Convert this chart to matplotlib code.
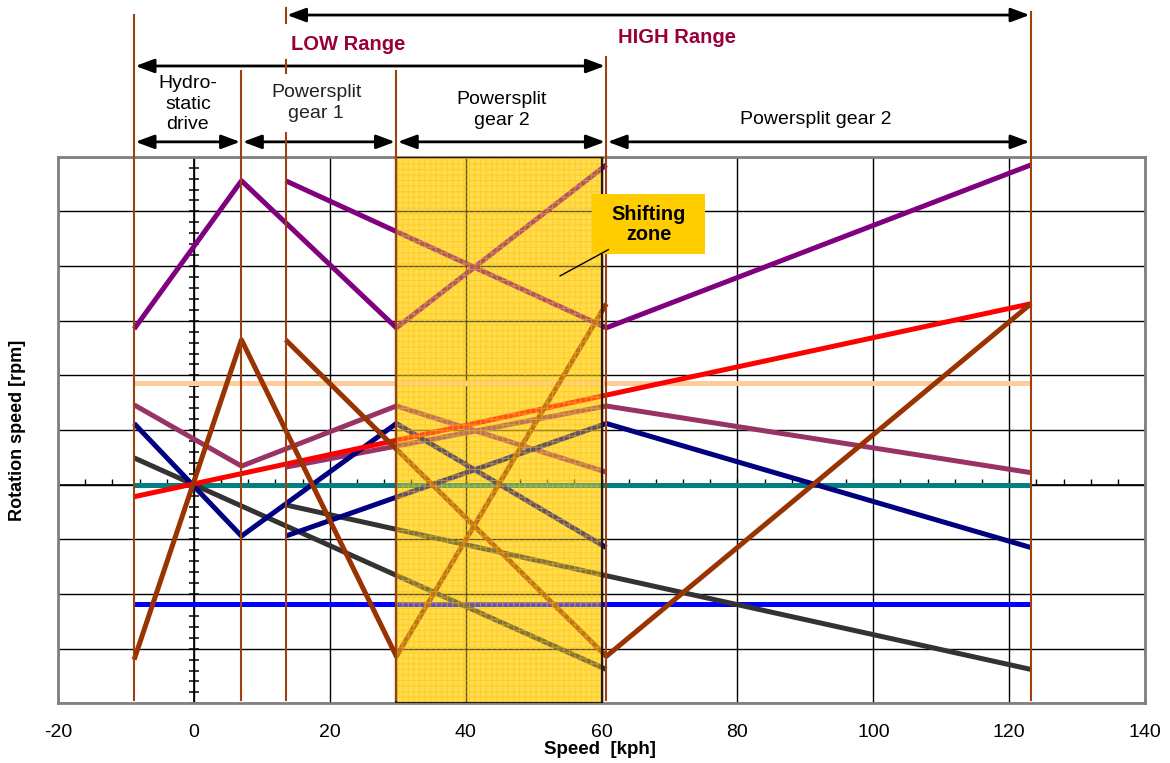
import numpy as np
import matplotlib
matplotlib.use("Agg")
import matplotlib.pyplot as plt
from matplotlib.patches import Rectangle
from matplotlib.markers import TICKUP

plt.rcParams['font.family'] = ['Liberation Sans', 'DejaVu Sans']
plt.rcParams['axes.unicode_minus'] = False
plt.rcParams['hatch.linewidth'] = 0.8

# speed breakpoints [kph]
x_low = [-8.8, 7.0, 29.8, 60.7]      # hydrostatic -> gear 1 -> gear 2 (low range)
x_high = [13.5, 60.7, 123.2]         # gear 1 -> gear 2 (high range)
x_full = [-8.8, 123.2]

# rotation speeds (one grid step per unit)
purple_low = [2.85, 5.56, 2.87, 5.85]
purple_high = [5.56, 2.87, 5.85]
brown_low = [-3.2, 2.65, -3.14, 3.31]
brown_high = [2.65, -3.14, 3.31]
navy_low = [1.12, -0.94, 1.12, -1.15]
navy_high = [-0.94, 1.12, -1.15]
mauve_low = [1.46, 0.34, 1.44, 0.23]
mauve_high = [0.32, 1.44, 0.22]
gray_x_low = [-8.8, 60.7]
gray_low = [0.49, -3.38]
gray_x_high = [13.5, 123.2]
gray_high = [-0.37, -3.38]
red_line = [-0.22, 3.31]
peach_line = [1.86, 1.86]
teal_line = [0.0, 0.0]
blue_line = [-2.18, -2.18]

# section boundaries and shifting zone
boundaries = [-8.8, 7.0, 13.5, 29.8, 60.7, 123.2]
zone = (29.75, 60.1)

fig = plt.figure(figsize=(11.7, 7.63), dpi=100)
ax = fig.add_axes([0.0496, 0.0782, 0.9291, 0.7164])
ax.set_xlim(-20, 140)
ax.set_ylim(-4, 6)
ax.set_xticks(range(-20, 141, 20))
ax.set_yticks(range(-4, 7))
ax.set_yticklabels([])
ax.tick_params(length=0, labelsize=14, pad=15)
ax.grid(True, color='black', lw=1.0)
ax.set_axisbelow(True)
for s in ax.spines.values():
    s.set_color('#808080')
    s.set_linewidth(2)

# inner axes through the origin
ax.axvline(0, color='black', lw=1.2, zorder=1)
ax.axhline(0, color='black', lw=1.2, zorder=1)
ax.plot(np.zeros(51), np.linspace(-4, 6, 51), ls='none', marker='_',
        ms=7.5, mew=1.1, color='black', zorder=1)
ax.plot(np.arange(-20, 141, 4), np.zeros(41), ls='none', marker=TICKUP,
        ms=4, mew=1.0, color='black', zorder=1)

# shifting zone background (under the grid)
zw = zone[1] - zone[0]
ax.add_patch(Rectangle((zone[0], -4), zw, 10, facecolor='#FFDC50', lw=0, zorder=0.2))

lw = 3.6
series = [
    (x_low, purple_low, '#800080'), (x_high, purple_high, '#800080'),
    (x_full, peach_line, '#FFCC99'),
    (x_full, teal_line, '#008080'),
    (x_full, blue_line, '#0000FF'),
    (gray_x_low, gray_low, '#333333'), (gray_x_high, gray_high, '#333333'),
    (x_low, mauve_low, '#993366'), (x_high, mauve_high, '#993366'),
    (x_low, navy_low, '#000080'), (x_high, navy_high, '#000080'),
    (x_full, red_line, '#FF0000'),
    (x_low, brown_low, '#993300'), (x_high, brown_high, '#993300'),
]
for xs, ys, c in series:
    ax.plot(xs, ys, color=c, lw=lw, zorder=3, solid_capstyle='butt')

# tinted overlay with a fine grid pattern
ax.add_patch(Rectangle((zone[0], -4), zw, 10, facecolor='#FFDC50',
                       alpha=0.38, lw=0, zorder=4))
ax.add_patch(Rectangle((zone[0], -4), zw, 10, facecolor='none',
                       edgecolor='#FFC000', hatch='+++', lw=0, alpha=0.5, zorder=4))
ax.add_patch(Rectangle((zone[0], -4), zw, 10, facecolor='none',
                       edgecolor='#2a1a00', lw=1.6, zorder=4.5))

# label box for the zone
ax.add_patch(Rectangle((58.55, 4.226), 16.68, 1.098, facecolor='#FFCC00',
                       lw=0, zorder=6.5))
ax.text(66.9, 4.76, 'Shifting\nzone', ha='center', va='center', fontsize=14.3,
        fontweight='bold', linespacing=1.1, zorder=7)
ax.plot([53.9, 61.0], [3.82, 4.3], color='black', lw=1, zorder=7)

# section boundaries, running up into the annotation area
tr = ax.get_xaxis_transform()
tops = [1.2592, 1.1567, None, 1.1567, 1.1824, 1.2647]
vcol = '#A0400F'
for xb, top in zip(boundaries, tops):
    if top is None:
        for y0, y1 in [(0.006, 1.0435), (1.153, 1.1769), (1.2449, 1.2723)]:
            ax.plot([xb, xb], [y0, y1], color=vcol, lw=1.5, transform=tr,
                    clip_on=False, zorder=6)
    else:
        ax.plot([xb, xb], [0.006, top], color=vcol, lw=1.5, transform=tr,
                clip_on=False, zorder=6)

def span(x0, x1, y):
    ax.annotate('', xy=(x1, y), xytext=(x0, y), xycoords=('data', 'axes fraction'),
                textcoords=('data', 'axes fraction'), annotation_clip=False,
                arrowprops=dict(arrowstyle='<|-|>,head_length=0.75,head_width=0.28',
                                mutation_scale=15, lw=2, color='black',
                                shrinkA=1, shrinkB=1))

span(13.5, 123.2, 1.2592)
span(-8.8, 60.7, 1.166)
span(-8.8, 7.0, 1.0272)
span(7.0, 29.8, 1.0272)
span(29.8, 60.7, 1.0272)
span(60.7, 123.2, 1.0272)

range_col = '#99003A'
ax.text(22.7, 1.2062, 'LOW Range', transform=tr, ha='center', va='center',
        fontsize=14.5, fontweight='bold', color=range_col)
ax.text(71.1, 1.2172, 'HIGH Range', transform=tr, ha='center', va='center',
        fontsize=14.5, fontweight='bold', color=range_col)
ax.text(-0.9, 1.0962, 'Hydro-\nstatic\ndrive', transform=tr, ha='center', va='center',
        fontsize=14, linespacing=1.28)
ax.text(18.0, 1.098, 'Powersplit\ngear 1', transform=tr, ha='center', va='center',
        fontsize=14, linespacing=1.28, color='#222222')
ax.text(45.35, 1.0855, 'Powersplit\ngear 2', transform=tr, ha='center', va='center',
        fontsize=14, linespacing=1.24)
ax.text(91.6, 1.0676, 'Powersplit gear 2', transform=tr, ha='center', va='center',
        fontsize=14)

ax.set_xlabel('Speed  [kph]', fontsize=13.5, fontweight='bold')
ax.xaxis.set_label_coords(0.4986, -0.068)
fig.text(18 / 1170, 1 - 430 / 763, 'Rotation speed [rpm]', rotation=90,
         ha='center', va='center', fontsize=13, fontweight='bold')

fig.savefig('out.png', dpi=100)
